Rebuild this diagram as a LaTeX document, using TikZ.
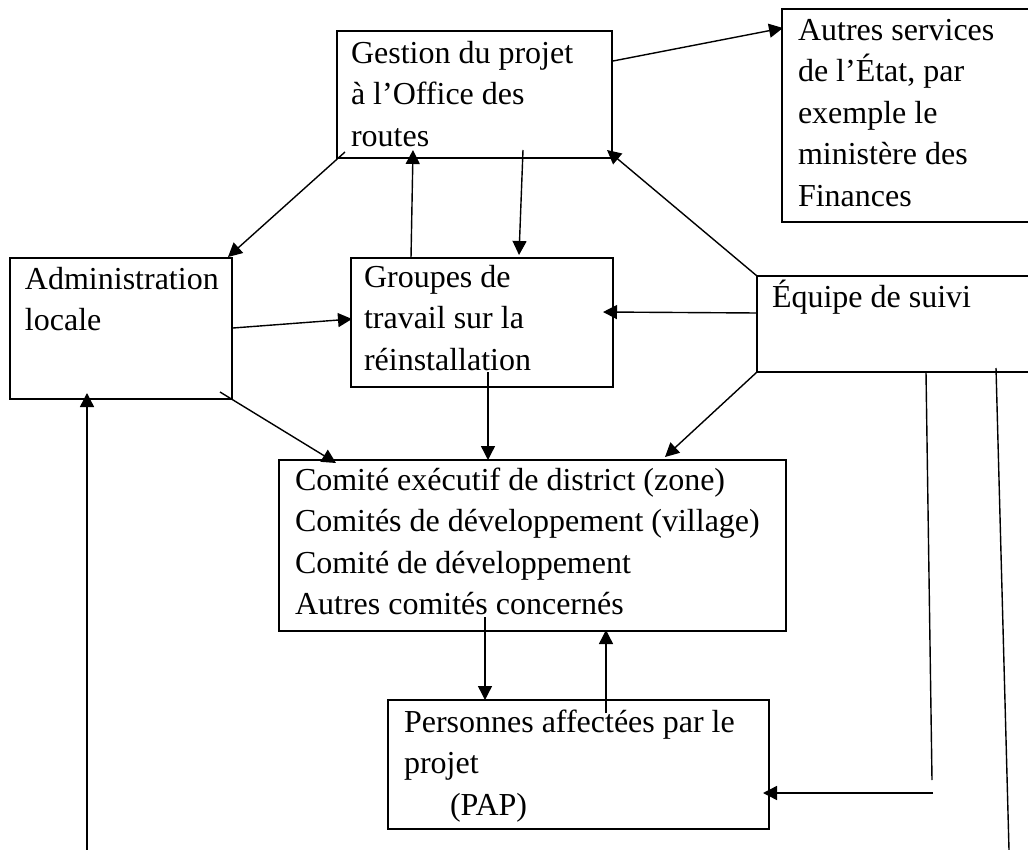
\documentclass[tikz,border=0pt]{standalone}
\usepackage{fontspec}
\setmainfont{Liberation Serif}
\usetikzlibrary{arrows.meta,calc}
\begin{document}
\begin{tikzpicture}[x=0.5pt,y=-0.5pt,
  box/.style={draw, line width=1pt, inner sep=0pt, outer sep=0pt, anchor=north west},
  txt/.style={inner sep=0pt, outer sep=0pt, anchor=north west, align=left,
    font=\fontsize{16}{20.75}\selectfont},
  arr/.style={draw, line width=0.7pt, -{Triangle[length=7pt,width=7pt]}},
  ln/.style={draw, line width=0.7pt}]
\useasboundingbox (0,0) rectangle (1028,850);
\clip (0,0) rectangle (1028,850);
% boxes
\node[box, minimum width=137.5pt, minimum height=63.5pt] (gest) at (337,31) {};
\node[box, minimum width=129pt, minimum height=106.5pt] (autres) at (782,9) {};
\node[box, minimum width=111pt, minimum height=70.5pt] (admin) at (10,258) {};
\node[box, minimum width=131pt, minimum height=64.5pt] (grp) at (351,258) {};
\node[box, minimum width=141.5pt, minimum height=48pt] (equipe) at (757,276) {};
\node[box, minimum width=253.5pt, minimum height=85.5pt] (comite) at (279,460) {};
\node[box, minimum width=190.5pt, minimum height=64.5pt] (pap) at (388,700) {};
% texts
\node[txt] (gestT) at (351,34) {\strut Gestion du projet\\\strut à l’Office des\\\strut routes};
\node[txt] (autresT) at (798,11) {\strut Autres services\\\strut de l’État, par\\\strut exemple le\\\strut ministère des\\\strut Finances};
\node[txt] (adminT) at (25,260) {\strut Administration\\\strut locale};
\node[txt] (grpT) at (364,258) {\strut Groupes de\\\strut travail sur la\\\strut réinstallation};
\node[txt] (equipeT) at (772,278) {\strut Équipe de suivi};
\node[txt] (comiteT) at (295,461) {\strut Comité exécutif de district (zone)\\\strut Comités de développement (village)\\\strut Comité de développement\\\strut Autres comités concernés};
\node[txt] (papT) at (404,703) {\strut Personnes affectées par le\\\strut projet\\\strut\hspace*{23pt}(PAP)};
% free ends
\coordinate (c1) at (932,780);
\coordinate (c2) at (933,793);
\coordinate (c3) at (1009,850);
\coordinate (c4) at (87,850);
% connectors
\path[arr] ($(gest.north east)+(1,30)$) -- ($(autres.north west)+(1,19)$);
\path[arr] ($(gest.south west)+(8,-6)$) -- ($(admin.north east)+(-4,-1)$);
\path[arr] ($(grp.north west)+(60,0)$) -- ($(gest.south west)+(76,-8)$);
\path[arr] ($(gest.south west)+(186,-8)$) -- ($(grp.north west)+(168,-3)$);
\path[arr] (equipe.north west) -- ($(gest.south east)+(-5,-8)$);
\path[arr] ($(admin.north east)+(1,70)$) -- ($(grp.north west)+(1,61)$);
\path[arr] ($(equipe.north west)+(0,37)$) -- ($(grp.north east)+(-10,54)$);
\path[arr] ($(admin.south east)+(-12,-7)$) -- ($(comite.north west)+(57,3)$);
\path[arr] ($(grp.south west)+(137,-15)$) -- ($(comite.north west)+(209,0)$);
\path[arr] (equipe.south west) -- ($(comite.north west)+(386,-3)$);
\path[arr] ($(comite.south west)+(206,-14)$) -- ($(pap.north west)+(97,0)$);
\path[arr] ($(pap.north west)+(218,13)$) -- ($(comite.south west)+(327,-1)$);
\path[ln] ($(equipe.south west)+(169,0)$) -- (c1);
\path[arr] (c2) -- ($(pap.south east)+(-6,-36)$);
\path[ln] ($(equipe.south west)+(239,-4)$) -- (c3);
\path[arr] (c4) -- ($(admin.south west)+(77,-6)$);
\end{tikzpicture}
\end{document}
